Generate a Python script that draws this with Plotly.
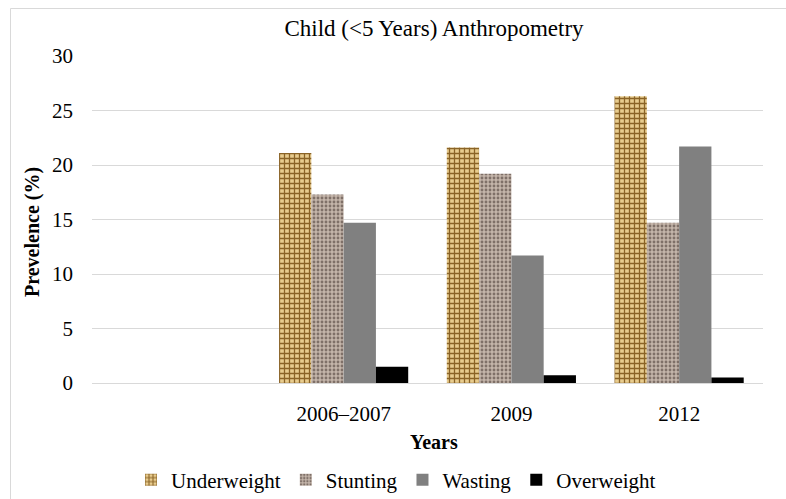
import plotly.graph_objects as go

# Survey rounds (the first slot is an empty spacer category)
years = [" ", "2006–2007", "2009", "2012"]

underweight = [None, 21.1, 21.6, 26.3]
stunting = [None, 17.3, 19.2, 14.7]
wasting = [None, 14.7, 11.7, 21.7]
overweight = [None, 1.5, 0.7, 0.5]

y_ticks = [0, 5, 10, 15, 20, 25, 30]

FONT = "Liberation Serif"

fig = go.Figure()

fig.add_trace(go.Bar(
    name="Underweight", x=years, y=underweight,
    marker=dict(
        color="#d6ae66",
        line=dict(width=0),
        pattern=dict(shape="+", fgcolor="#8a6326", bgcolor="#e8cc8e",
                     size=5, solidity=0.45, fillmode="replace"),
    ),
))
fig.add_trace(go.Bar(
    name="Stunting", x=years, y=stunting,
    marker=dict(
        color="#b6a69b",
        line=dict(width=0),
        pattern=dict(shape=".", fgcolor="#7f7068", bgcolor="#c4b5aa",
                     size=4, solidity=0.4, fillmode="replace"),
    ),
))
fig.add_trace(go.Bar(
    name="Wasting", x=years, y=wasting,
    marker=dict(color="#808080", line=dict(width=0)),
))
fig.add_trace(go.Bar(
    name="Overweight", x=years, y=overweight,
    marker=dict(color="#000000", line=dict(width=0)),
))

fig.update_layout(
    width=786, height=499,
    margin=dict(l=92, r=23, t=56, b=116, autoexpand=False),
    paper_bgcolor="white",
    plot_bgcolor="white",
    barmode="group",
    bargap=0.23,
    bargroupgap=0,
    font=dict(family=FONT, size=21, color="#000000"),
    title=dict(
        text="Child (<5 Years) Anthropometry",
        x=434 / 786, xref="container", xanchor="center",
        y=1 - 28 / 499, yref="container", yanchor="middle",
        font=dict(family=FONT, size=23, color="#000000"),
    ),
    xaxis=dict(
        type="category",
        categoryorder="array", categoryarray=years,
        range=[-0.5, 3.5],
        showgrid=False,
        showline=True, linecolor="#d9d9d9", linewidth=1,
        ticks="",
        ticklabelstandoff=12,
        tickfont=dict(family=FONT, size=21),
        fixedrange=True,
    ),
    yaxis=dict(
        range=[0, 30],
        tickvals=y_ticks,
        showgrid=True, gridcolor="#d9d9d9", gridwidth=1,
        zeroline=False,
        showline=False,
        ticks="",
        ticklabelstandoff=18,
        tickfont=dict(family=FONT, size=21),
        fixedrange=True,
    ),
    legend=dict(
        orientation="h",
        x=(396 - 92) / 671, xanchor="center",
        y=-(480 - 383) / 327, yanchor="middle",
        font=dict(family=FONT, size=21),
        itemwidth=30,
        traceorder="normal",
        bgcolor="rgba(0,0,0,0)",
    ),
    annotations=[
        dict(
            text="<b>Prevelence (%)</b>",
            xref="paper", yref="paper",
            x=(33 - 92) / 671, y=(383 - 232) / 327,
            xanchor="center", yanchor="middle",
            textangle=-90, showarrow=False,
            font=dict(family=FONT, size=20),
        ),
        dict(
            text="<b>Years</b>",
            xref="paper", yref="paper",
            x=(434 - 92) / 671, y=-(442 - 383) / 327,
            xanchor="center", yanchor="middle",
            showarrow=False,
            font=dict(family=FONT, size=20),
        ),
    ],
    shapes=[
        dict(
            type="rect", xref="paper", yref="paper",
            x0=(10.5 - 92) / 671, x1=(800 - 92) / 671,
            y0=-(520 - 383) / 327, y1=(383 - 8.5) / 327,
            line=dict(color="#d9d9d9", width=1),
            fillcolor="rgba(0,0,0,0)",
            layer="below",
        ),
    ],
)

fig.write_html("out.html")
